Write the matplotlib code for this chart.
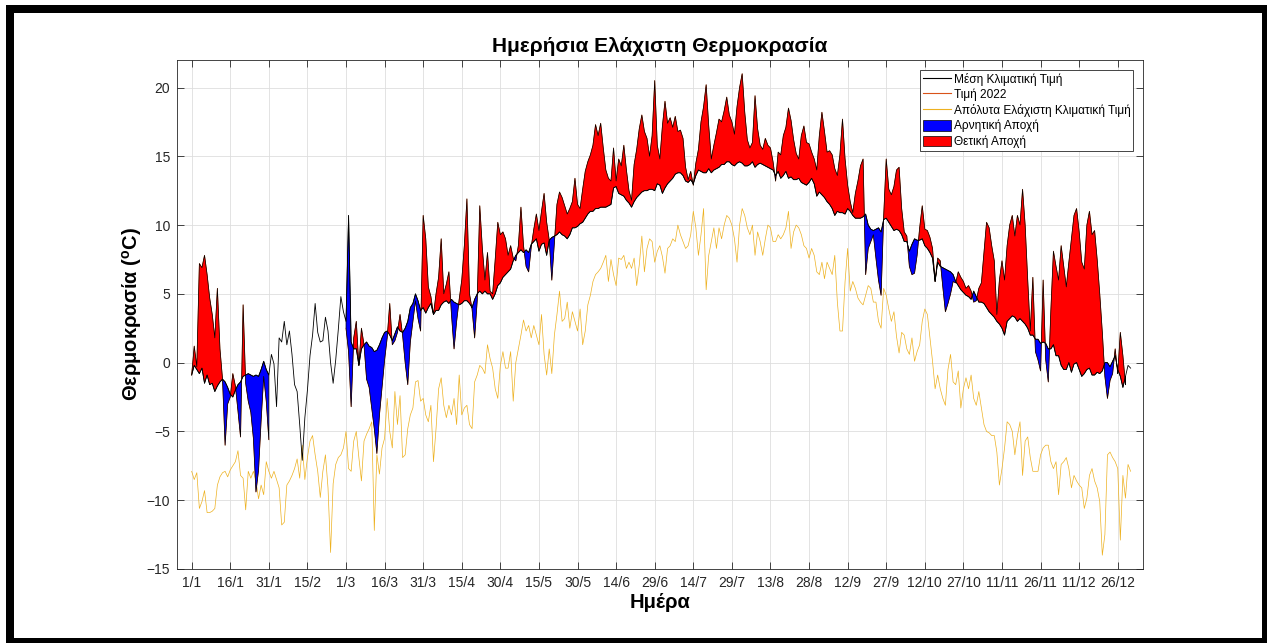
import numpy as np
import matplotlib
matplotlib.use("Agg")
import matplotlib.pyplot as plt
from matplotlib.patches import Rectangle
from matplotlib.lines import Line2D

plt.rcParams['font.family'] = ['Liberation Sans', 'DejaVu Sans']
plt.rcParams['mathtext.default'] = 'regular'

nan = np.nan

# day of year 1..366
days = np.arange(1, 367)

# Μέση Κλιματική Τιμή (mean climatic daily minimum)
mean_clim = [
    -0.9, -0.2, -0.5, -0.8, -0.4, -1.5, -0.9, -1.6, -1.5, -2.1,
    -1.7, -1.4, -1.2, -1.4, -1.8, -2.3, -2.5, -2.0, -1.6, -1.4,
    -1.0, -0.9, -0.8, -0.9, -1.0, -0.9, -1.0, -0.5, 0.1, -0.5,
    -0.9, 0.6, -0.1, -3.2, 1.8, 1.5, 3.0, 1.3, 2.3, 0.6,
    -1.6, -2.1, -4.5, -7.1, -4.0, -2.0, 0.5, 2.0, 4.3, 2.2,
    1.5, 1.6, 3.3, 2.3, 0.0, -1.5, 0.2, 2.4, 4.8, 3.7,
    3.0, 10.7, 1.5, 1.0, 1.0, -0.2, 1.0, 1.3, 1.5, 1.2,
    1.1, 0.8, 0.9, 1.3, 1.8, 2.2, 2.3, 2.0, 1.6, 2.1,
    2.6, 2.3, 2.2, 2.5, 3.0, 4.0, 4.3, 5.0, 4.5, 3.8,
    4.0, 3.6, 4.0, 4.3, 3.5, 3.8, 3.8, 4.2, 4.4, 4.5,
    4.3, 4.6, 4.4, 4.3, 4.2, 4.3, 4.5, 4.5, 4.3, 4.0,
    4.6, 5.0, 5.2, 5.0, 5.2, 5.0, 5.0, 4.6, 5.0, 5.6,
    5.8, 6.2, 6.4, 6.6, 6.8, 7.4, 7.8, 8.0, 8.2, 8.0,
    8.2, 8.0, 8.6, 8.8, 9.0, 8.1, 8.6, 8.7, 7.8, 8.9,
    9.1, 9.2, 9.3, 9.5, 9.3, 9.2, 9.0, 9.3, 9.8, 9.8,
    9.9, 10.1, 10.2, 10.5, 10.8, 11.0, 11.0, 11.2, 11.2, 11.3,
    11.3, 11.3, 11.4, 11.5, 12.7, 12.8, 12.3, 12.2, 12.1, 11.8,
    11.6, 11.3, 11.7, 12.0, 12.2, 12.4, 12.5, 12.5, 12.6, 12.6,
    12.5, 13.0, 12.9, 12.3, 12.7, 13.0, 13.2, 13.4, 13.7, 13.8,
    13.8, 13.6, 13.2, 13.1, 13.3, 13.0, 13.6, 14.0, 13.9, 13.8,
    13.8, 14.1, 13.8, 14.0, 14.1, 14.2, 14.4, 14.4, 14.6, 14.6,
    14.4, 14.3, 14.5, 14.6, 14.5, 14.3, 14.3, 14.4, 14.6, 14.2,
    14.4, 14.5, 14.4, 14.3, 14.2, 14.1, 14.0, 13.6, 13.9, 13.4,
    13.6, 13.9, 13.4, 13.5, 13.3, 13.3, 13.4, 13.1, 13.0, 12.9,
    13.1, 13.4, 13.0, 12.1, 12.4, 12.2, 12.0, 11.7, 11.5, 11.2,
    10.7, 11.0, 10.9, 10.9, 10.8, 11.2, 11.0, 10.7, 10.5, 10.5,
    10.5, 10.6, 10.8, 10.0, 9.7, 9.6, 9.7, 9.8, 9.5, 10.4,
    10.5, 10.2, 9.9, 9.6, 9.7, 9.6, 9.3, 8.8, 8.8, 8.1,
    8.6, 9.0, 8.9, 8.9, 9.0, 8.5, 8.3, 8.0, 7.6, 5.9,
    7.3, 7.0, 6.9, 6.8, 6.7, 6.6, 6.4, 5.9, 5.6, 5.3,
    5.1, 4.9, 4.8, 4.6, 5.2, 4.8, 4.4, 4.4, 4.3, 4.0,
    3.7, 3.5, 3.3, 3.0, 2.8, 2.5, 2.0, 3.0, 3.2, 3.4,
    3.3, 3.0, 3.2, 3.0, 2.8, 2.5, 2.0, 2.0, 1.7, 1.7,
    1.4, 1.5, 1.4, 1.0, 1.0, 1.3, 0.5, 0.5, -0.2, -0.5,
    -0.5, 0.0, -0.7, -0.1, 0.0, -0.5, -1.0, -0.8, -0.5, -0.4,
    -0.9, -0.9, -0.7, -0.8, -0.6, 0.0, 0.0, -0.3, 0.1, 0.5,
    -0.5, -1.0, -1.8, -1.0, -0.2, -0.4,
]

# Τιμή 2022 (no data from 1/2 to 29/2 and for the last two days)
t2022 = [
    -0.9, 1.2, -0.3, 7.2, 6.9, 7.8, 6.4, 4.7, 3.5, 1.8,
    5.4, 1.0, -1.2, -6.0, -3.0, -2.5, -0.8, -1.7, -3.5, -5.4,
    4.2, -1.5, -2.8, -3.6, -5.5, -9.4, -7.8, -4.2, -1.0, -2.8,
    -5.6, nan, nan, nan, nan, nan, nan, nan, nan, nan,
    nan, nan, nan, nan, nan, nan, nan, nan, nan, nan,
    nan, nan, nan, nan, nan, nan, nan, nan, nan, nan,
    2.5, 0.8, -3.2, 1.8, 3.0, -0.2, 2.5, 1.3, -1.2, -1.8,
    -3.3, -4.8, -6.6, -3.8, -1.8, 0.2, 1.8, 4.3, 1.3, 1.6,
    2.2, 3.5, 2.0, 0.0, -1.6, 1.5, 3.0, 4.5, 3.2, 2.3,
    10.7, 9.0, 5.5, 4.8, 3.5, 5.0, 6.2, 9.0, 5.0, 5.7,
    6.6, 3.5, 1.0, 3.0, 4.6, 6.0, 8.5, 11.9, 5.0, 3.9,
    1.8, 4.5, 11.4, 8.3, 6.0, 8.0, 5.2, 5.0, 7.5, 10.2,
    9.3, 9.5, 9.0, 7.8, 8.5, 7.6, 7.4, 8.5, 11.3, 8.5,
    7.0, 6.6, 8.4, 9.7, 10.8, 9.6, 11.0, 12.3, 10.2, 8.9,
    6.0, 8.7, 11.5, 12.4, 12.0, 11.4, 10.8, 11.2, 11.7, 13.4,
    11.5, 11.2, 12.6, 13.9, 14.6, 15.1, 15.8, 17.3, 16.5, 17.4,
    15.6, 14.0, 13.4, 13.2, 15.6, 13.2, 14.8, 14.3, 15.8, 14.0,
    12.5, 11.8, 14.4, 15.5, 17.0, 18.0, 16.8, 16.3, 15.0, 16.5,
    20.5, 15.8, 14.8, 17.2, 19.0, 17.4, 17.8, 17.1, 17.9, 16.8,
    16.9, 16.3, 14.2, 13.3, 13.9, 12.9, 14.5, 15.5, 17.5, 18.6,
    20.2, 17.2, 14.8, 15.8, 16.7, 17.7, 17.5, 18.3, 19.3, 18.0,
    17.5, 16.6, 18.6, 20.0, 21.0, 18.2, 16.2, 15.6, 16.0, 19.4,
    17.0, 15.8, 15.5, 16.3, 15.8, 15.6, 14.6, 13.2, 15.3, 15.1,
    16.5, 17.1, 18.5, 17.6, 16.2, 15.2, 14.8, 16.5, 17.2, 16.0,
    15.9, 15.3, 14.8, 14.0, 16.5, 18.2, 16.8, 15.3, 15.4, 15.1,
    14.1, 13.6, 15.1, 17.7, 14.8, 12.9, 11.7, 10.9, 12.3, 13.2,
    14.3, 14.8, 6.4, 8.3, 8.8, 9.3, 7.6, 6.0, 4.9, 10.6,
    14.8, 12.6, 12.2, 12.8, 14.0, 14.2, 11.2, 9.5, 9.2, 7.0,
    6.4, 6.5, 7.8, 9.8, 11.4, 9.7, 9.6, 9.1, 8.3, 5.9,
    7.6, 7.4, 5.5, 3.7, 4.3, 5.0, 5.9, 5.8, 6.6, 6.2,
    5.9, 5.4, 5.6, 5.2, 4.4, 4.5, 5.4, 5.8, 8.0, 10.2,
    9.8, 8.5, 7.4, 3.5, 6.0, 7.4, 6.0, 8.5, 10.0, 10.7,
    9.2, 10.7, 10.0, 12.6, 10.0, 6.0, 2.3, 6.2, 0.8, 0.2,
    -0.6, 6.0, 0.2, -1.4, 3.8, 8.1, 7.0, 6.0, 8.5, 7.0,
    5.5, 7.3, 9.0, 10.7, 11.2, 9.5, 7.3, 6.8, 10.0, 11.0,
    9.3, 9.6, 7.5, 5.0, 2.2, -1.0, -2.6, -1.3, -0.8, 1.0,
    -0.8, 2.2, 0.5, -1.6, nan, nan,
]

# Απόλυτα Ελάχιστη Κλιματική Τιμή (absolute minimum)
abs_min = [
    -7.9, -8.5, -8.0, -10.6, -10.1, -9.3, -10.9, -10.9, -10.8, -10.6,
    -8.9, -8.3, -8.0, -7.9, -8.3, -7.8, -7.5, -7.2, -6.4, -8.2,
    -8.4, -10.7, -7.9, -8.4, -7.9, -8.6, -9.9, -8.9, -9.6, -7.2,
    -7.9, -8.4, -7.9, -8.5, -9.1, -11.8, -11.6, -8.9, -8.6, -8.2,
    -7.7, -7.0, -8.4, -6.0, -8.5, -6.9, -5.7, -5.3, -6.7, -7.9,
    -9.8, -7.9, -6.7, -9.1, -13.8, -8.8, -7.4, -6.9, -6.7, -6.2,
    -5.0, -7.7, -7.9, -5.7, -5.0, -6.9, -8.6, -5.7, -5.2, -4.8,
    -4.3, -12.2, -6.7, -8.1, -6.2, -5.5, -2.6, -5.0, -6.2, -2.1,
    -4.5, -2.4, -6.9, -6.7, -4.8, -3.8, -3.3, -1.4, -1.3, -2.8,
    -2.6, -3.8, -4.3, -3.1, -7.2, -4.8, -1.9, -1.1, -3.1, -4.0,
    -3.1, -3.8, -2.6, -4.5, -0.9, -3.8, -3.3, -3.1, -4.5, -4.8,
    -1.4, -0.9, -0.2, -0.4, -0.8, 1.3, 0.3, -0.4, -1.9, -2.6,
    -0.2, 0.8, -0.4, -0.4, 0.8, -2.8, 0.0, 1.0, 2.0, 3.1,
    2.3, 2.7, 1.8, 2.7, 2.0, 1.3, 3.5, 0.6, -0.9, 1.0,
    -0.8, 2.0, 3.5, 5.2, 3.0, 3.2, 4.4, 2.5, 3.7, 3.0,
    2.3, 3.9, 1.3, 2.3, 4.2, 4.9, 5.9, 6.4, 6.6, 6.85,
    7.3, 7.8, 5.9, 7.5, 6.4, 5.6, 7.6, 7.5, 7.8, 6.85,
    7.3, 6.85, 7.6, 5.6, 7.1, 9.2, 6.6, 8.3, 9.0, 8.8,
    7.3, 8.1, 8.5, 7.7, 6.5, 8.3, 8.5, 9.0, 8.8, 10.0,
    9.3, 8.8, 8.3, 8.5, 9.3, 11.0, 9.8, 7.8, 9.3, 11.2,
    5.3, 7.8, 8.8, 9.8, 8.3, 9.8, 9.0, 10.0, 10.7, 10.5,
    10.0, 9.0, 7.3, 10.0, 11.2, 10.7, 9.8, 9.3, 10.0, 7.8,
    9.5, 8.8, 7.8, 9.0, 10.0, 9.8, 8.8, 8.8, 9.3, 9.0,
    9.3, 9.8, 11.0, 8.3, 9.5, 10.0, 9.8, 9.3, 8.5, 8.3,
    7.6, 8.3, 7.8, 6.6, 6.4, 7.3, 6.1, 7.3, 6.85, 6.4,
    7.8, 4.4, 2.3, 2.3, 5.9, 8.3, 5.2, 5.9, 5.4, 4.7,
    4.4, 4.2, 4.9, 5.6, 5.4, 4.4, 4.4, 3.0, 2.5, 5.4,
    4.9, 3.9, 3.0, 3.7, 1.9, 0.7, 2.2, 2.0, 1.0, 0.6,
    1.8, 0.1, 0.8, 1.3, 3.0, 3.9, 3.5, 1.8, 0.1, -1.9,
    -0.9, -1.9, -2.6, -3.1, -0.5, 0.6, -1.4, -1.6, -0.6, -3.3,
    -1.9, -1.1, -1.9, -0.9, -2.6, -3.1, -2.1, -3.3, -4.5, -5.0,
    -5.1, -5.3, -5.3, -6.5, -8.9, -7.7, -6.2, -4.3, -4.5, -5.0,
    -6.7, -5.3, -4.3, -8.2, -5.7, -5.4, -6.9, -7.9, -7.9, -7.9,
    -6.7, -6.2, -6.0, -6.0, -7.2, -7.7, -7.2, -9.6, -7.4, -7.2,
    -6.9, -7.7, -9.1, -8.2, -8.6, -8.9, -9.1, -10.6, -9.85, -8.2,
    -7.7, -8.6, -9.1, -10.1, -14.0, -12.5, -6.7, -6.5, -6.9, -7.2,
    -7.7, -12.9, -8.2, -9.85, -7.4, -7.9,
]

tick_days = list(range(1, 362, 15))
tick_labels = ['1/1', '16/1', '31/1', '15/2', '1/3', '16/3', '31/3', '15/4',
               '30/4', '15/5', '30/5', '14/6', '29/6', '14/7', '29/7', '13/8',
               '28/8', '12/9', '27/9', '12/10', '27/10', '11/11', '26/11',
               '11/12', '26/12']

m = np.array(mean_clim)
t = np.array(t2022)
a = np.array(abs_min)

fig = plt.figure(figsize=(12.67, 6.43), dpi=100)

# black frame around the picture
fig.patches.append(Rectangle((6 / 1267, 0), 1261 / 1267, 638 / 643,
                             transform=fig.transFigure, facecolor='black', zorder=-2))
fig.patches.append(Rectangle((14 / 1267, 5 / 643), 1248 / 1267, 625 / 643,
                             transform=fig.transFigure, facecolor='white', zorder=-1))

ax = fig.add_axes([0.1397, 0.1151, 0.7624, 0.7916])

ax.plot(days, t, color='#D95319', lw=0.6, zorder=1)
ax.plot(days, a, color='#EDB120', lw=0.5, zorder=2)

neg = ax.fill_between(days, m, t, where=t < m, interpolate=True,
                      facecolor='#0000FF', edgecolor='black', linewidth=0.5, zorder=3)
pos = ax.fill_between(days, m, t, where=t >= m, interpolate=True,
                      facecolor='#FF0000', edgecolor='black', linewidth=0.5, zorder=3)
ax.plot(days, m, color='black', lw=0.6, zorder=4)

ax.set_xlim(-4.7, 370.8)
ax.set_ylim(-15, 22)
ax.set_xticks(tick_days)
ax.set_xticklabels(tick_labels)
ax.set_yticks(range(-15, 21, 5))

ax.grid(True, color='#DEDEDE', linewidth=0.6)
ax.set_axisbelow(True)
ax.tick_params(direction='in', top=True, right=True, length=5, width=0.6,
               colors='#262626', labelsize=10, pad=5)
for sp in ax.spines.values():
    sp.set_color('#262626')
    sp.set_linewidth(0.6)

ax.set_title('Ημερήσια Ελάχιστη Θερμοκρασία', fontsize=15, fontweight='bold', pad=6)
ax.set_xlabel('Ημέρα', fontsize=14.5, fontweight='bold', labelpad=2)
ax.set_ylabel(r'Θερμοκρασία ($^o$C)', fontsize=14.5, fontweight='bold', labelpad=2)

handles = [Line2D([], [], color='black', lw=0.8),
           Line2D([], [], color='#D95319', lw=0.8),
           Line2D([], [], color='#EDB120', lw=0.8),
           neg, pos]
labels = ['Μέση Κλιματική Τιμή', 'Τιμή 2022', 'Απόλυτα Ελάχιστη Κλιματική Τιμή',
          'Αρνητική Αποχή', 'Θετική Αποχή']
leg = ax.legend(handles, labels, loc='upper right', fontsize=8.6, frameon=True,
                fancybox=False, edgecolor='#262626', framealpha=1,
                handlelength=2.4, handleheight=1.0, labelspacing=0.25,
                borderaxespad=0.8, borderpad=0.25, handletextpad=0.2)
leg.get_frame().set_linewidth(0.6)

fig.savefig('out.png', dpi=100)
